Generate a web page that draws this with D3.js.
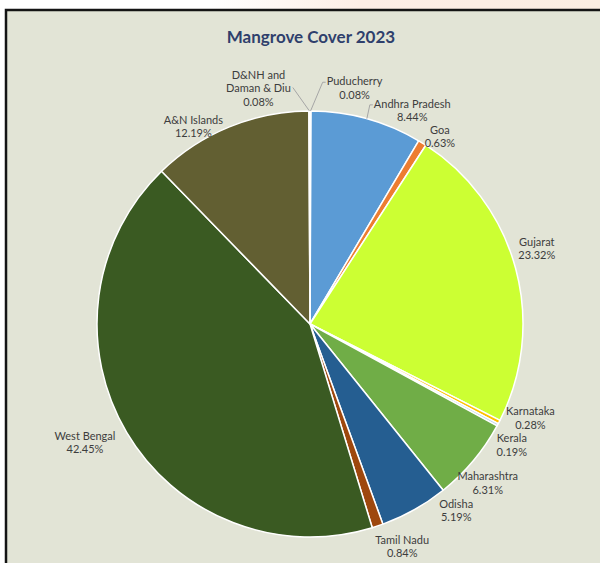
<!DOCTYPE html>
<html lang="en">
<head>
  <meta charset="utf-8">
  <title>Mangrove Cover 2023</title>
  <script src="https://d3js.org/d3.v7.min.js"></script>
  <style>
    body { margin: 0; background: #ffffff; }
    svg { display: block; }
    .lbl { font-family: Lato, 'Open Sans', sans-serif; font-size: 11px; fill: #3d3d3d; }
    .title { font-family: Lato, 'Open Sans', sans-serif; font-size: 17px; font-weight: bold; fill: #2f3f6c; }
  </style>
</head>
<body>
<div id="chart"></div>
<script>
  // Data (share of mangrove cover, %)
  var states = ["Puducherry", "Andhra Pradesh", "Goa", "Gujarat", "Karnataka", "Kerala",
    "Maharashtra", "Odisha", "Tamil Nadu", "West Bengal", "A&N Islands", "D&NH and Daman & Diu"];
  var shares = [0.08, 8.44, 0.63, 23.32, 0.28, 0.19, 6.31, 5.19, 0.84, 42.45, 12.19, 0.08];
  var labelLines = [["Puducherry"], ["Andhra Pradesh"], ["Goa"], ["Gujarat"], ["Karnataka"], ["Kerala"],
    ["Maharashtra"], ["Odisha"], ["Tamil Nadu"], ["West Bengal"], ["A&N Islands"], ["D&NH and", "Daman & Diu"]];
  var colors = ["#9dc3e6", "#5b9bd5", "#ed7d31", "#ccff33", "#ffc000", "#bdd7ee",
    "#70ad47", "#255e91", "#9e480e", "#3a5a22", "#625f32", "#a5a5a5"];

  // label nudges from the outer anchor point (layout only)
  var nudge = {
    "Puducherry": [44, 1], "Andhra Pradesh": [39, 15], "Goa": [5, 14], "Gujarat": [-2, -14],
    "Karnataka": [10, -15], "Kerala": [-7, 9], "Maharashtra": [-4, 7], "Odisha": [30, -20],
    "Tamil Nadu": [17, -2], "West Bengal": [-21, -2], "A&N Islands": [-27, 22], "D&NH and Daman & Diu": [-51, 1]
  };
  var leaders = ["Puducherry", "Andhra Pradesh", "D&NH and Daman & Diu"];

  var W = 600, H = 563;
  var cx = 310, cy = 324, r = 213;

  var svg = d3.select("#chart").append("svg").attr("width", W).attr("height", H);

  // faint page tint above the chart frame
  var grad = svg.append("defs").append("linearGradient").attr("id", "topTint")
    .attr("x1", "0").attr("x2", "1").attr("y1", "0").attr("y2", "0");
  grad.append("stop").attr("offset", "0.35").attr("stop-color", "#ffffff");
  grad.append("stop").attr("offset", "0.6").attr("stop-color", "#fdeee6");
  grad.append("stop").attr("offset", "1").attr("stop-color", "#fbeee2");
  svg.append("rect").attr("x", 0).attr("y", 0).attr("width", W).attr("height", 10).attr("fill", "url(#topTint)");

  // chart frame
  svg.append("rect").attr("x", 6).attr("y", 10).attr("width", 700).attr("height", 700)
    .attr("fill", "#e2e4d6").attr("stroke", "#141414").attr("stroke-width", 2.5);

  svg.append("text").attr("class", "title").attr("x", 311).attr("y", 43)
    .attr("text-anchor", "middle").text("Mangrove Cover 2023");

  var data = states.map(function (s, i) { return { name: s, value: shares[i], color: colors[i], lines: labelLines[i] }; });

  var pie = d3.pie().sort(null).value(function (d) { return d.value; });
  var arc = d3.arc().innerRadius(0).outerRadius(r);
  var arcs = pie(data);

  var g = svg.append("g").attr("transform", "translate(" + cx + "," + cy + ")");

  g.selectAll("path.slice")
    .data(arcs)
    .enter()
    .append("path")
    .attr("class", "slice")
    .attr("d", arc)
    .attr("fill", function (d) { return d.data.color; })
    .attr("stroke", "#ffffff")
    .attr("stroke-width", 1.5)
    .attr("stroke-linejoin", "round");

  function polar(a, rad) { return [rad * Math.sin(a), -rad * Math.cos(a)]; }

  arcs.forEach(function (d) {
    var mid = (d.startAngle + d.endAngle) / 2;
    var p = polar(mid, r + 24);
    var n = nudge[d.data.name];
    var lx = p[0] + n[0], ly = p[1] + n[1];
    var lines = d.data.lines.concat([d.data.value.toFixed(2) + "%"]);
    var lh = 13.5;
    var t = g.append("text").attr("class", "lbl").attr("text-anchor", "middle");
    lines.forEach(function (s, i) {
      t.append("tspan").attr("x", lx)
        .attr("y", ly - (lines.length - 1) * lh / 2 + i * lh + 4)
        .text(s);
    });

    if (leaders.indexOf(d.data.name) >= 0) {
      var bb = t.node().getBBox();
      var e = polar(mid, r);
      var pts;
      if (lx > 0) {
        pts = [e, [bb.x - 4, bb.y + 8], [bb.x - 1, bb.y + 8]];
      } else {
        pts = [e, [bb.x + bb.width + 2, bb.y + bb.height * 0.5]];
      }
      g.append("path")
        .attr("d", d3.line()(pts))
        .attr("fill", "none")
        .attr("stroke", "#a6a6a6")
        .attr("stroke-width", 1);
    }
  });
</script>
</body>
</html>
